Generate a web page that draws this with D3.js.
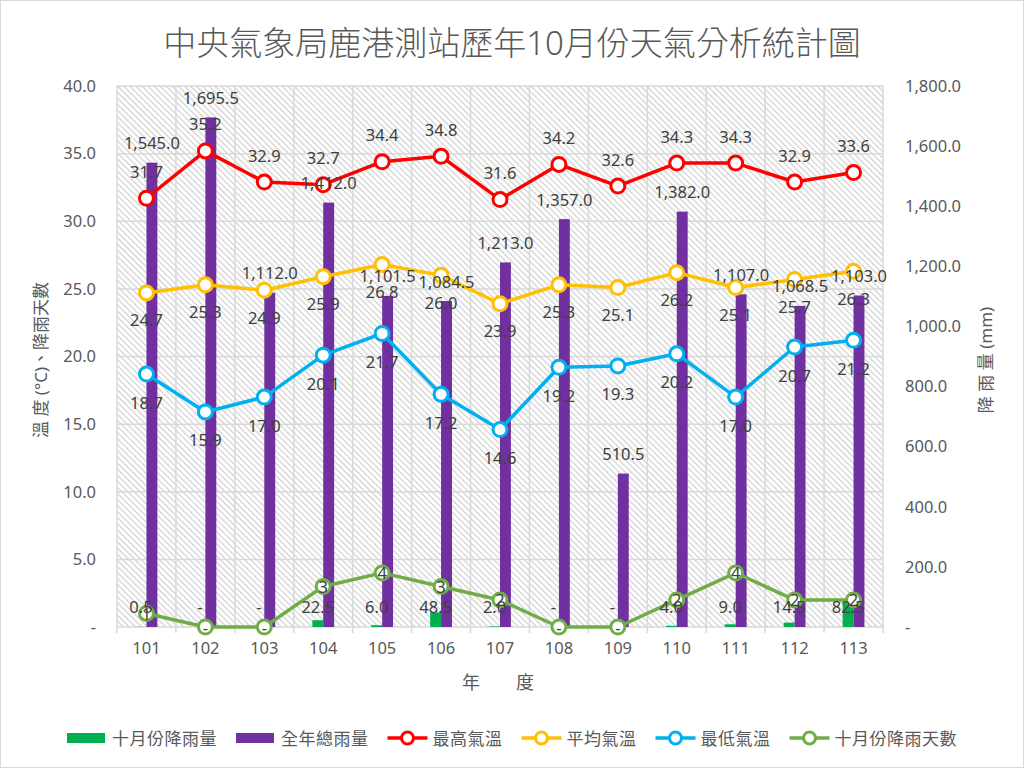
<!DOCTYPE html>
<html><head><meta charset="utf-8">
<script src="https://cdn.jsdelivr.net/npm/d3@7"></script>
<style>
body{margin:0;background:#fff}
svg{display:block}
text{font-family:"Noto Sans","Noto Sans CJK TC",sans-serif}
</style>
</head><body>
<svg id="c" width="1024" height="768"></svg>
<script>
const years = ["101","102","103","104","105","106","107","108","109","110","111","112","113"];
const maxTemp = [31.7,35.2,32.9,32.7,34.4,34.8,31.6,34.2,32.6,34.3,34.3,32.9,33.6];
const avgTemp = [24.7,25.3,24.9,25.9,26.8,26.0,23.9,25.3,25.1,26.2,25.1,25.7,26.3];
const minTemp = [18.7,15.9,17.0,20.1,21.7,17.2,14.6,19.2,19.3,20.2,17.0,20.7,21.2];
const rainDays = [1,0,0,3,4,3,2,0,0,2,4,2,2];
const octRain = [0.5,0,0,22.5,6.0,48.5,2.0,0,0,4.0,9.0,14.5,82.5];
const yearRain = [1545.0,1695.5,1112.0,1412.0,1101.5,1084.5,1213.0,1357.0,510.5,1382.0,1107.0,1068.5,1103.0];
const leftTicks = [0,5,10,15,20,25,30,35,40];
const rightTicks = [0,200,400,600,800,1000,1200,1400,1600,1800];
const titleText = "中央氣象局鹿港測站歷年10月份天氣分析統計圖";
const leftTitle = "溫 度 (°C)、降雨天數";
const rightTitle = "降 雨 量 (mm)";
const xTitle = "年　　度";
const legendNames = ["十月份降雨量","全年總雨量","最高氣溫","平均氣溫","最低氣溫","十月份降雨天數"];

const svg = d3.select("#c");
const L=117, R=883, T=86, B=627;
const x = d3.scaleBand().domain(years).range([L,R]).padding(0);
const yL = d3.scaleLinear().domain([0,40]).range([B,T]);
const yR = d3.scaleLinear().domain([0,1800]).range([B,T]);
const bw = x.bandwidth()*0.185;
const cx = d => x(d)+x.bandwidth()/2;

const gray="#595959", lab="#404040", grid="#d9d9d9";
const fmtL = v => v===0?"-":d3.format(".1f")(v);
const fmtR = v => v===0?"-":d3.format(",.1f")(v);

// border
svg.append("rect").attr("x",0.5).attr("y",0.5).attr("width",1023).attr("height",767)
  .attr("fill","#fff").attr("stroke","#d9d9d9");

// hatch pattern
const defs = svg.append("defs");
const pat = defs.append("pattern").attr("id","hatch").attr("patternUnits","userSpaceOnUse")
  .attr("width",4.3).attr("height",10).attr("patternTransform","rotate(-45)");
pat.append("rect").attr("width",4.3).attr("height",10).attr("fill","#fff");
pat.append("rect").attr("x",0).attr("width",1.4).attr("height",10).attr("fill","#d6d6d6");
svg.append("rect").attr("x",L).attr("y",T).attr("width",R-L).attr("height",B-T).attr("fill","url(#hatch)");

// gridlines
svg.append("g").selectAll("line").data(leftTicks).join("line")
  .attr("x1",L).attr("x2",R).attr("y1",d=>yL(d)).attr("y2",d=>yL(d))
  .attr("stroke",grid).attr("stroke-width",1.5);
const edges = years.map(d=>x(d)).concat([R]);
svg.append("g").selectAll("line").data(edges).join("line")
  .attr("x1",d=>d).attr("x2",d=>d).attr("y1",T).attr("y2",B+6)
  .attr("stroke",grid).attr("stroke-width",1.5);

// axes labels
const axL = d3.axisLeft(yL).tickValues(leftTicks).tickFormat(fmtL).tickSize(0).tickPadding(21);
const gL = svg.append("g").attr("transform",`translate(${L},0)`).call(axL);
const axR = d3.axisRight(yR).tickValues(rightTicks).tickFormat(fmtR).tickSize(0).tickPadding(22);
const gR = svg.append("g").attr("transform",`translate(${R},0)`).call(axR);
const axB = d3.axisBottom(x).tickSize(0).tickPadding(15);
const gB = svg.append("g").attr("transform",`translate(0,${B})`).call(axB);
[gL,gR,gB].forEach(g=>{
  g.select(".domain").remove();
  g.selectAll("text").attr("fill",gray).attr("font-size",16.5);
});

// bars
svg.append("g").selectAll("rect").data(years).join("rect")
  .attr("x",d=>cx(d)-bw).attr("width",bw)
  .attr("y",(d,i)=>yR(octRain[i])).attr("height",(d,i)=>B-yR(octRain[i]))
  .attr("fill","#00b050");
svg.append("g").selectAll("rect").data(years).join("rect")
  .attr("x",d=>cx(d)).attr("width",bw)
  .attr("y",(d,i)=>yR(yearRain[i])).attr("height",(d,i)=>B-yR(yearRain[i]))
  .attr("fill","#7030a0");

// lines
const series = [
  {vals:maxTemp,color:"#ff0000"},
  {vals:avgTemp,color:"#ffc000"},
  {vals:minTemp,color:"#00b0f0"},
  {vals:rainDays,color:"#70ad47"}
];
const line = d3.line().x(d=>cx(d.y)).y(d=>yL(d.v));
series.forEach(s=>{
  const pts = years.map((y,i)=>({y,v:s.vals[i]}));
  svg.append("path").datum(pts).attr("d",line).attr("fill","none")
    .attr("stroke",s.color).attr("stroke-width",3.5).attr("stroke-linejoin","round");
  svg.append("g").selectAll("circle").data(pts).join("circle")
    .attr("cx",d=>cx(d.y)).attr("cy",d=>yL(d.v)).attr("r",7)
    .attr("fill","#fff").attr("stroke",s.color).attr("stroke-width",3);
});

// data labels
const lbl = svg.append("g").attr("fill",lab).attr("font-size",16.5).attr("text-anchor","middle")
  .attr("dominant-baseline","central");
years.forEach((y,i)=>{
  lbl.append("text").attr("x",cx(y)-bw/2).attr("y",yR(0)-21).text(fmtL(octRain[i]));
  lbl.append("text").attr("x",cx(y)+bw/2).attr("y",yR(yearRain[i])-20).text(fmtR(yearRain[i]));
  lbl.append("text").attr("x",cx(y)).attr("y",yL(maxTemp[i])-27).text(fmtL(maxTemp[i]));
  lbl.append("text").attr("x",cx(y)).attr("y",yL(avgTemp[i])+27).text(fmtL(avgTemp[i]));
  lbl.append("text").attr("x",cx(y)).attr("y",yL(minTemp[i])+28).text(fmtL(minTemp[i]));
  lbl.append("text").attr("x",cx(y)).attr("y",yL(rainDays[i])).text(rainDays[i]===0?"-":rainDays[i]);
});

// title
svg.append("text").attr("x",512).attr("y",42).attr("text-anchor","middle").attr("dominant-baseline","central")
  .attr("font-size",33).attr("font-weight",300).attr("fill",gray).text(titleText);
// axis titles
svg.append("text").attr("transform","translate(40,360) rotate(-90)").attr("text-anchor","middle")
  .attr("dominant-baseline","central").attr("font-size",17).attr("fill",gray).text(leftTitle);
svg.append("text").attr("transform","translate(985,360) rotate(-90)").attr("text-anchor","middle")
  .attr("dominant-baseline","central").attr("font-size",17).attr("fill",gray).text(rightTitle);
svg.append("text").attr("x",498).attr("y",682).attr("text-anchor","middle").attr("dominant-baseline","central")
  .attr("font-size",18).attr("fill",gray).text(xTitle);

// legend
const legColors = ["#00b050","#7030a0","#ff0000","#ffc000","#00b0f0","#70ad47"];
const lg = svg.append("g");
let xx = 0;
legendNames.forEach((n,i)=>{
  const g = lg.append("g").attr("transform",`translate(${xx},0)`);
  if(i<2){
    g.append("rect").attr("x",0).attr("y",-5).attr("width",38).attr("height",10).attr("fill",legColors[i]);
  } else {
    g.append("line").attr("x1",0).attr("x2",40).attr("y1",0).attr("y2",0)
      .attr("stroke",legColors[i]).attr("stroke-width",3.5);
    g.append("circle").attr("cx",20).attr("cy",0).attr("r",6).attr("fill","#fff")
      .attr("stroke",legColors[i]).attr("stroke-width",3);
  }
  const t = g.append("text").attr("x",45).attr("y",0).attr("dominant-baseline","central")
    .attr("font-size",17).attr("letter-spacing",0.5).attr("fill",gray).text(n);
  const w = 45 + t.node().getComputedTextLength();
  xx += w + 19;
});
const total = xx - 19;
lg.attr("transform",`translate(${512 - total/2},738)`);
</script>
</body></html>
